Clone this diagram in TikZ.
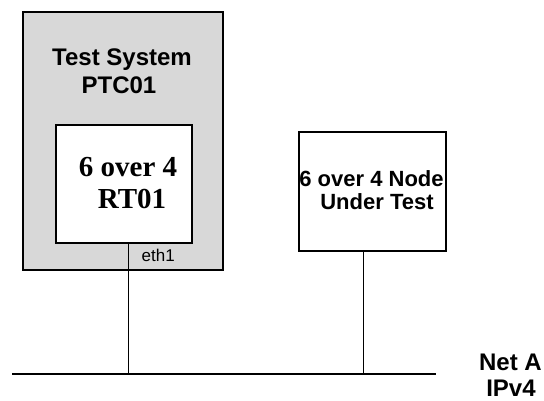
\documentclass[tikz,border=0pt]{standalone}
\usepackage{fontspec}
\setmainfont{Liberation Serif}
\setsansfont{Liberation Sans}
\definecolor{boxgray}{RGB}{216,216,216}
\begin{document}
\begin{tikzpicture}[x=1pt,y=-1pt,
  frame/.style={draw=black,line width=1.7pt,inner sep=0,outer sep=0},
  wire/.style={draw=black,line width=1.5pt},
  lbl/.style={inner sep=0,anchor=base},
  sanslbl/.style={lbl,font=\sffamily\bfseries\fontsize{24}{28}\selectfont},
  serlbl/.style={lbl,font=\rmfamily\bfseries\fontsize{29}{31}\selectfont},
  nodelbl/.style={lbl,font=\sffamily\bfseries\fontsize{22}{24}\selectfont}]
\useasboundingbox[fill=white] (0,0) rectangle (544,401);
\node[frame,fill=boxgray,minimum width=200pt,minimum height=258pt] (ts) at (123,141) {};
\node[frame,fill=white,minimum width=136pt,minimum height=118pt] (rt) at (124,184) {};
\node[frame,fill=white,minimum width=147pt,minimum height=119pt] (ut) at (372.5,191.5) {};
\node[sanslbl] (t1) at (122,66) {Test System};
\node[sanslbl] (t2) at (119,94) {PTC01};
\node[serlbl] (r1) at (128,177) {6 over 4};
\node[serlbl] (r2) at (132,208) {RT01};
\node[lbl,font=\sffamily\fontsize{17}{18}\selectfont,anchor=base west] (eth) at (141.5,261.5) {eth1};
\node[nodelbl] (u1) at (371.5,186) {6 over 4 Node};
\node[nodelbl] (u2) at (377,210) {Under Test};
\node[sanslbl] (n1) at (510.5,370.5) {Net A};
\node[sanslbl] (n2) at (511,396) {IPv4};
\coordinate (busL) at (12,374);
\coordinate (busR) at (436,374);
\coordinate (tap1) at (128.3,374);
\coordinate (tap2) at (363.7,374);
\draw[wire] (busL) -- (busR);
\draw[wire] (rt.south -| tap1) -- (tap1);
\draw[wire] (ut.south -| tap2) -- (tap2);
\end{tikzpicture}
\end{document}
